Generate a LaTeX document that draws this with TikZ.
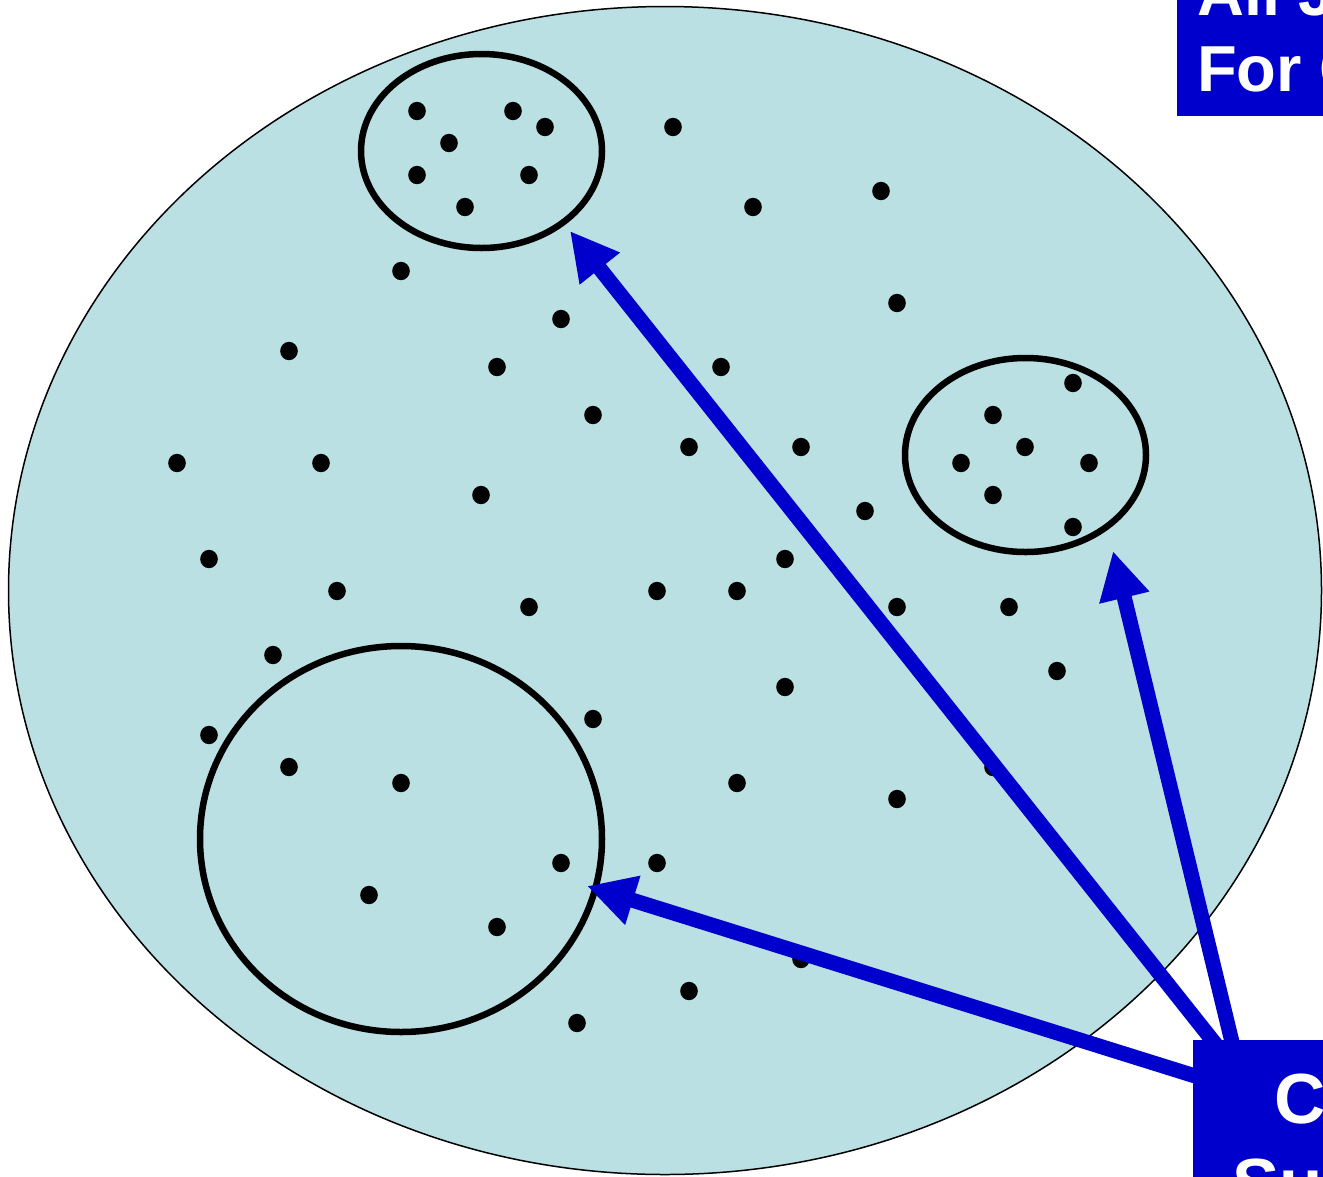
\documentclass[tikz,border=0pt]{standalone}
\usepackage{fontspec}
\setmainfont{Liberation Sans}
\usetikzlibrary{shapes.geometric,arrows.meta}
\definecolor{poolfill}{RGB}{186,224,227}
\definecolor{deepblue}{RGB}{0,0,204}
\pgfdeclarelayer{front}
\pgfsetlayers{main,front}
\tikzset{
  pool/.style={ellipse, draw=black, line width=1.5pt, fill=poolfill, inner sep=0pt},
  cluster/.style={ellipse, draw=black, line width=6.5pt, inner sep=0pt},
  dot/.style={fill=black},
  pointer/.style={draw=deepblue, line width=15pt, -{Triangle[length=48pt,width=48pt]}},
  labelbox/.style={fill=deepblue, inner sep=0pt, anchor=north west},
  toplabel/.style={text=white, anchor=base west, inner sep=0pt, font=\fontsize{65}{78}\selectfont\bfseries},
  botlabel/.style={text=white, anchor=base west, inner sep=0pt, font=\fontsize{71}{85}\selectfont\bfseries}
}
\begin{document}
\begin{tikzpicture}[x=1pt, y=-1pt]
\useasboundingbox (0,0) rectangle (1323,1176);
\clip (0,0) rectangle (1323,1176);

% the whole population
\node[pool, minimum width=1313pt, minimum height=1168pt] (pool) at (665,590.5) {};

% individual members
\foreach \px/\py in {
  417/111, 513/111, 545/127, 449/143, 417/175, 529/175, 465/207,
  1073/383, 993/415, 1025/447, 961/463, 1089/463, 993/495, 1073/527,
  673/127, 753/207, 881/191, 401/271, 561/319, 897/303, 289/351,
  497/367, 721/367, 593/415, 177/463, 321/463, 689/447, 801/447,
  481/495, 865/511, 209/559, 785/559, 337/591, 529/607, 657/591,
  737/591, 897/607, 1009/607, 1057/671, 273/655, 785/687, 593/719,
  209/735, 289/767, 401/783, 737/783, 897/799, 993/767, 561/863,
  657/863, 369/895, 497/927, 801/959, 689/991, 577/1023}
  \fill[dot] (\px,\py) ellipse [x radius=8.8pt, y radius=9.2pt];

% selected groups
\node[cluster, minimum width=241pt, minimum height=194pt] (top) at (481.5,151) {};
\node[cluster, minimum width=241pt, minimum height=194pt] (right) at (1025.5,455) {};
\node[cluster, minimum width=402pt, minimum height=386pt] (round) at (401,839) {};

% arrow ends
\coordinate (tipTop) at (570,231);
\coordinate (tipRight) at (1113,551);
\coordinate (tipRound) at (587,886);

% label boxes and their text, above the arrows
\begin{pgfonlayer}{front}
\node[labelbox, minimum width=300pt, minimum height=200pt] (sub) at (1193,1040) {};
\node[labelbox, minimum width=300pt, minimum height=216pt] (all) at (1177,-100) {};
\node[toplabel] (allA) at (1197,15) {All J};
\node[toplabel] (allB) at (1197,91) {For C};
\node[botlabel] (subA) at (1274,1123) {C};
\node[botlabel] (subB) at (1232,1208) {Su};
\end{pgfonlayer}

\coordinate (fromA) at ([xshift=47pt, yshift=-35pt]sub.north west);
\coordinate (fromB) at ([xshift=47pt, yshift=-50pt]sub.north west);

\draw[pointer] (fromA) -- (tipTop);
\draw[pointer] (fromA) -- (tipRight);
\draw[pointer] (fromB) -- (tipRound);
\end{tikzpicture}
\end{document}
